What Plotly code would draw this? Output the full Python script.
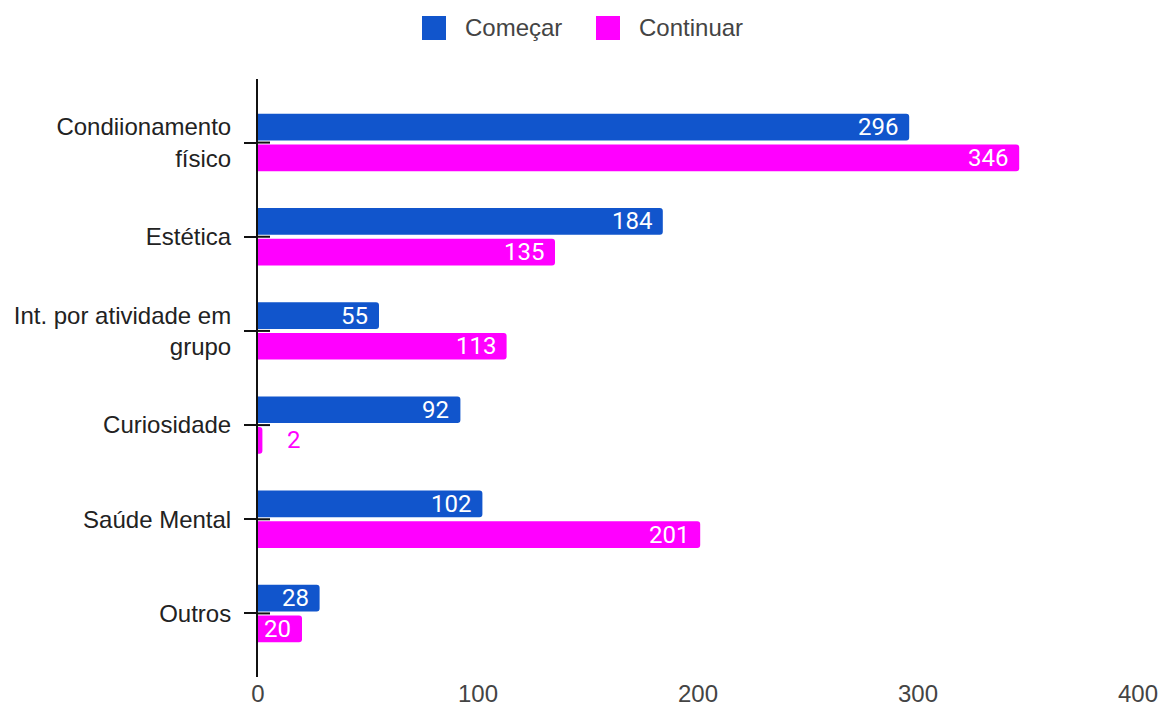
import plotly.graph_objects as go

# Motivos para começar / continuar a praticar
categorias = [
    "Condiionamento<br>físico",
    "Estética",
    "Int. por atividade em<br>grupo",
    "Curiosidade",
    "Saúde Mental",
    "Outros",
]
comecar = [296, 184, 55, 92, 102, 28]
continuar = [346, 135, 113, 2, 201, 20]
series_nomes = ["Começar", "Continuar"]
cores = ["#1155CC", "#FF00FF"]
x_ticks = [0, 100, 200, 300, 400]

W, H = 1159, 711
M_L, M_R, M_T, M_B = 258, 21, 79, 34
PLOT_W = W - M_L - M_R
PLOT_H = H - M_T - M_B

BARGAP = 0.348
BARGROUPGAP = 0.13
Y_PAD = 0.675
TICK_LEN = 12

fig = go.Figure()
for nome, vals, cor in zip(series_nomes, [comecar, continuar], cores):
    fig.add_trace(go.Bar(
        y=categorias, x=vals, name=nome, orientation="h",
        marker=dict(color=cor, line=dict(width=0)),
        showlegend=False, hoverinfo="x+name",
    ))

# pixel offsets of each series inside a category band
band_px = PLOT_H / (len(categorias) - 1 + 2 * Y_PAD)
slot_px = band_px * (1 - BARGAP) / 2
offsets = [slot_px / 2, -slot_px / 2]

annotations = []
for vals, cor, dy in zip([comecar, continuar], cores, offsets):
    for cat, v in zip(categorias, vals):
        if v >= 10:
            annotations.append(dict(
                x=v, y=cat, xref="x", yref="y", text=str(v),
                xanchor="right", yanchor="middle", xshift=-9, yshift=dy,
                showarrow=False,
                font=dict(family="Roboto", size=24, color="white"),
            ))
        else:
            annotations.append(dict(
                x=v, y=cat, xref="x", yref="y", text=str(v),
                xanchor="left", yanchor="middle", xshift=23, yshift=dy,
                showarrow=False,
                font=dict(family="Roboto", size=24, color=cor),
            ))

shapes = []
# inner half of the tick marks crossing the category axis
for cat in categorias:
    shapes.append(dict(
        type="line", xref="x", yref="y", xsizemode="pixel", xanchor=0,
        x0=0, x1=TICK_LEN, y0=cat, y1=cat,
        line=dict(color="#111111", width=2), layer="above",
    ))


def px_x(p):
    return (p - M_L) / PLOT_W


def px_y(p):
    return (H - M_B - p) / PLOT_H


# legend: colored squares + labels
leg_items = [(422, 463), (596, 637)]
for (sq_x, tx_x), nome, cor in zip(leg_items, series_nomes, cores):
    shapes.append(dict(
        type="rect", xref="paper", yref="paper",
        x0=px_x(sq_x), x1=px_x(sq_x + 24), y0=px_y(40), y1=px_y(16),
        fillcolor=cor, line=dict(width=0), layer="above",
    ))
    annotations.append(dict(
        x=px_x(tx_x), y=px_y(28), xref="paper", yref="paper", text=nome,
        xanchor="left", yanchor="middle", showarrow=False,
        font=dict(family="Liberation Sans, Arial", size=24, color="#444444"),
    ))

fig.update_layout(
    width=W, height=H,
    margin=dict(l=M_L, r=M_R, t=M_T, b=M_B, autoexpand=False),
    paper_bgcolor="white", plot_bgcolor="white",
    barmode="group", bargap=BARGAP, bargroupgap=BARGROUPGAP,
    barcornerradius=3,
    showlegend=False,
    font=dict(family="Liberation Sans, Arial", size=24, color="#222222"),
    xaxis=dict(
        range=[0, 400], tickvals=x_ticks, showgrid=False, zeroline=False,
        showline=False, ticks="",
        tickfont=dict(size=24, color="#444444"), automargin=False,
        fixedrange=True,
    ),
    yaxis=dict(
        type="category", categoryarray=categorias, categoryorder="array",
        range=[len(categorias) - 1 + Y_PAD, -Y_PAD],
        showgrid=False, zeroline=False, showline=True, linecolor="#111111",
        linewidth=2, ticks="outside", ticklen=TICK_LEN, tickwidth=2,
        tickcolor="#111111", ticklabelstandoff=8,
        tickfont=dict(size=24, color="#222222"), automargin=False,
        fixedrange=True,
    ),
    shapes=shapes, annotations=annotations,
)

fig.write_html("out.html")
